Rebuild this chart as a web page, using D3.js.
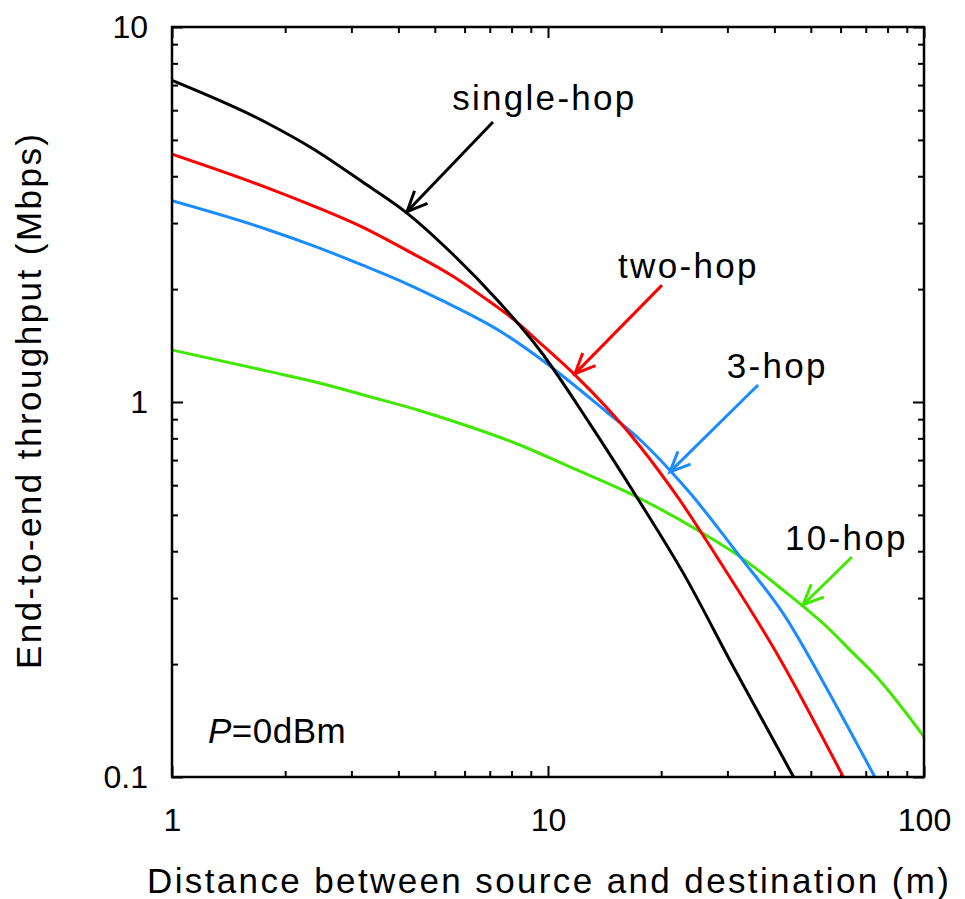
<!DOCTYPE html>
<html>
<head>
<meta charset="utf-8">
<script src="https://cdn.jsdelivr.net/npm/d3@7"></script>
<style>
  body { margin: 0; background: #fff; }
  text { font-family: "Liberation Sans", Arial, Helvetica, sans-serif; fill: #000; }
</style>
</head>
<body>
<svg id="chart" width="965" height="899"></svg>
<script>
// distance (m) and throughput (Mbps)
const singleHopDist = [1, 1.8, 2.4, 3.2, 4.2, 5.6, 7.4, 9.5, 12.9, 17.2, 23, 31, 45]
const singleHopRate = [7.2, 5.53, 4.7, 3.87, 3.2, 2.47, 1.85, 1.376, 0.877, 0.559, 0.347, 0.198, 0.1]

const twoHopDist = [1, 1.8, 2.4, 3.2, 4.2, 5.6, 6.7, 8.1, 9.5, 11.7, 17.6, 22.4, 28.1, 41, 61]
const twoHopRate = [4.58, 3.72, 3.32, 2.93, 2.54, 2.16, 1.91, 1.66, 1.44, 1.19, 0.76, 0.548, 0.387, 0.21, 0.1]

const threeHopDist = [1, 1.8, 2.4, 3.2, 4.2, 5.2, 7.5, 9.5, 14.3, 17.6, 21.3, 23.9, 32.4, 42.2, 57.4, 74]
const threeHopRate = [3.44, 2.88, 2.6, 2.32, 2.07, 1.87, 1.54, 1.308, 0.942, 0.792, 0.651, 0.571, 0.387, 0.273, 0.16, 0.1]

const tenHopDist = [1, 1.82, 2.48, 3.36, 4.57, 6.2, 8.42, 11.4, 17.2, 25.4, 32.4, 42.2, 56.2, 63.6, 74.8, 100]
const tenHopRate = [1.376, 1.205, 1.122, 1.033, 0.948, 0.859, 0.768, 0.672, 0.559, 0.451, 0.387, 0.315, 0.247, 0.218, 0.185, 0.128]

const seriesNames = ["single-hop", "two-hop", "3-hop", "10-hop"]
const seriesColors = ["#000000", "#ff0000", "#1a8cff", "#40e800"]

const xTickValues = [1, 10, 100]
const xTickLabels = ["1", "10", "100"]
const yTickValues = [0.1, 1, 10]
const yTickLabels = ["0.1", "1", "10"]

const xTitle = "Distance between source and destination (m)"
const yTitle = "End-to-end throughput (Mbps)"

// label start (data coords, baseline) and arrow from/to (data coords)
const labelPos = [[5.56, 6.01], [15.36, 2.14], [29.9, 1.159], [42.7, 0.403]]
const arrowFrom = [[7.14, 5.58], [20.1, 2.05], [36.2, 1.11], [64.3, 0.386]]
const arrowTo = [[4.22, 3.22], [11.8, 1.19], [21.1, 0.651], [47.7, 0.288]]

const svg = d3.select("#chart")
const margin = { top: 27, right: 41, bottom: 122, left: 172 }
const width = +svg.attr("width") - margin.left - margin.right
const height = +svg.attr("height") - margin.top - margin.bottom

svg.append("rect").attr("width", 965).attr("height", 899).attr("fill", "#fff")
const g = svg.append("g").attr("transform", "translate(" + margin.left + "," + margin.top + ")")

const x = d3.scaleLog().domain([1, 100]).range([0, width])
const y = d3.scaleLog().domain([0.1, 10]).range([height, 0])

const xMinor = x.ticks().filter(d => !xTickValues.includes(d))
const yMinor = y.ticks().filter(d => !yTickValues.includes(d))

function styleAxis(sel) {
    sel.select(".domain").remove()
    sel.selectAll(".tick line").attr("stroke", "#000").attr("stroke-width", 2)
}

// bottom
g.append("g").attr("transform", "translate(0," + height + ")")
    .call(d3.axisBottom(x).tickValues(xTickValues).tickSize(-11).tickPadding(31)
        .tickFormat((d, i) => xTickLabels[i]))
    .call(styleAxis)
    .selectAll("text").style("font-size", "32px").attr("font-family", null)
g.append("g").attr("transform", "translate(0," + height + ")")
    .call(d3.axisBottom(x).tickValues(xMinor).tickSize(-6).tickFormat(""))
    .call(styleAxis)
// top
g.append("g")
    .call(d3.axisTop(x).tickValues(xTickValues).tickSize(-11).tickFormat(""))
    .call(styleAxis)
g.append("g")
    .call(d3.axisTop(x).tickValues(xMinor).tickSize(-6).tickFormat(""))
    .call(styleAxis)
// left
g.append("g")
    .call(d3.axisLeft(y).tickValues(yTickValues).tickSize(-11).tickPadding(24)
        .tickFormat((d, i) => yTickLabels[i]))
    .call(styleAxis)
    .selectAll("text").style("font-size", "32px").attr("font-family", null)
g.append("g")
    .call(d3.axisLeft(y).tickValues(yMinor).tickSize(-6).tickFormat(""))
    .call(styleAxis)
// right
g.append("g").attr("transform", "translate(" + width + ",0)")
    .call(d3.axisRight(y).tickValues(yTickValues).tickSize(-11).tickFormat(""))
    .call(styleAxis)
g.append("g").attr("transform", "translate(" + width + ",0)")
    .call(d3.axisRight(y).tickValues(yMinor).tickSize(-6).tickFormat(""))
    .call(styleAxis)

g.append("clipPath").attr("id", "plotClip")
    .append("rect").attr("width", width).attr("height", height)

const allSeries = [
    singleHopDist.map((d, i) => [d, singleHopRate[i]]),
    twoHopDist.map((d, i) => [d, twoHopRate[i]]),
    threeHopDist.map((d, i) => [d, threeHopRate[i]]),
    tenHopDist.map((d, i) => [d, tenHopRate[i]])
]

const line = d3.line()
    .x(d => x(d[0]))
    .y(d => y(d[1]))
    .curve(d3.curveMonotoneX)

// draw 10-hop first so black ends up on top
const order = [3, 2, 1, 0]
order.forEach(k => {
    g.append("path")
        .datum(allSeries[k])
        .attr("clip-path", "url(#plotClip)")
        .attr("fill", "none")
        .attr("stroke", seriesColors[k])
        .attr("stroke-width", 3)
        .attr("stroke-linejoin", "round")
        .attr("d", line)
})

// frame
g.append("rect")
    .attr("width", width).attr("height", height)
    .attr("fill", "none").attr("stroke", "#000").attr("stroke-width", 2.5)

// arrows + labels
seriesNames.forEach((name, k) => {
    const x1 = x(arrowFrom[k][0]), y1 = y(arrowFrom[k][1])
    const x2 = x(arrowTo[k][0]), y2 = y(arrowTo[k][1])
    const ang = Math.atan2(y2 - y1, x2 - x1)
    const head = 22, spread = 0.42
    g.append("line")
        .attr("x1", x1).attr("y1", y1).attr("x2", x2).attr("y2", y2)
        .attr("stroke", seriesColors[k]).attr("stroke-width", 3)
    g.append("path")
        .attr("d", "M" + (x2 - head * Math.cos(ang - spread)) + "," + (y2 - head * Math.sin(ang - spread)) +
            "L" + x2 + "," + y2 +
            "L" + (x2 - head * Math.cos(ang + spread)) + "," + (y2 - head * Math.sin(ang + spread)))
        .attr("fill", "none").attr("stroke", seriesColors[k]).attr("stroke-width", 3)
    g.append("text")
        .attr("x", x(labelPos[k][0])).attr("y", y(labelPos[k][1]))
        .style("font-size", "35px").style("letter-spacing", "2.3px")
        .text(name)
})

// P=0dBm note
const note = g.append("text")
    .attr("x", 36).attr("y", 716)
    .style("font-size", "35px").style("letter-spacing", "0.5px")
note.append("tspan").style("font-style", "italic").text("P")
note.append("tspan").text("=0dBm")

// axis titles
svg.append("text")
    .attr("x", 147).attr("y", 893)
    .style("font-size", "35px")
    .attr("textLength", 802).attr("lengthAdjust", "spacing")
    .text(xTitle)

svg.append("text")
    .attr("transform", "translate(41,669) rotate(-90)")
    .style("font-size", "35px")
    .attr("textLength", 535).attr("lengthAdjust", "spacing")
    .text(yTitle)
</script>
</body>
</html>
